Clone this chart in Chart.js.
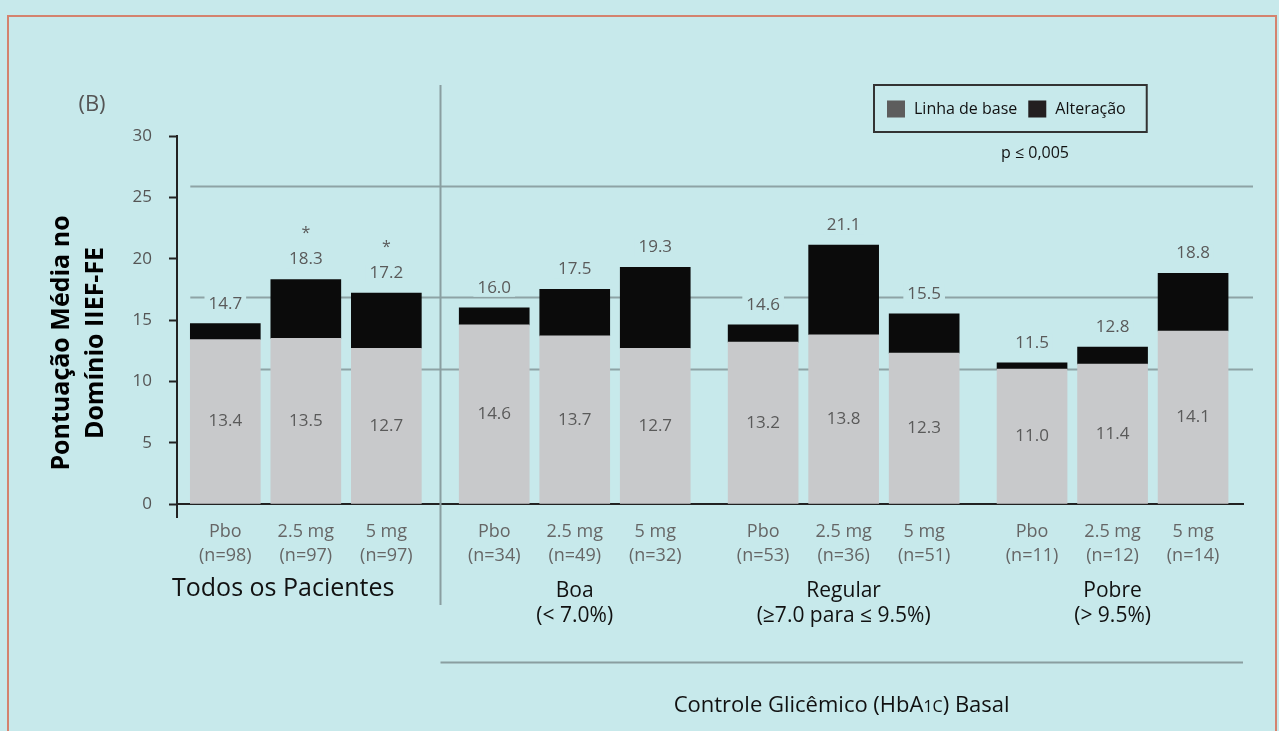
<!DOCTYPE html>
<html lang="pt">
<head>
<meta charset="utf-8">
<title>Pontuação Média no Domínio IIEF-FE</title>
<script src="https://cdn.jsdelivr.net/npm/chart.js@4.4.1/dist/chart.umd.min.js"></script>
<style>
  html, body { margin: 0; padding: 0; background: #c7e9eb; }
  #wrap { width: 1279px; height: 731px; }
</style>
</head>
<body>
<div id="wrap"><canvas id="chart" width="1279" height="731"></canvas></div>
<script>
// Data
const groupNames = ['Todos os Pacientes', 'Boa', 'Regular', 'Pobre'];
const groupRanges = ['', '(< 7.0%)', '(≥7.0 para ≤ 9.5%)', '(> 9.5%)'];
const doses = ['Pbo', '2.5 mg', '5 mg'];
const sampleSizes = [98, 97, 97, 34, 49, 32, 53, 36, 51, 11, 12, 14];
const baselineScores = [13.4, 13.5, 12.7, 14.6, 13.7, 12.7, 13.2, 13.8, 12.3, 11.0, 11.4, 14.1];
const finalScores = [14.7, 18.3, 17.2, 16.0, 17.5, 19.3, 14.6, 21.1, 15.5, 11.5, 12.8, 18.8];
const starred = [false, true, true, false, false, false, false, false, false, false, false, false];
const yTicks = [0, 5, 10, 15, 20, 25, 30];
const guideLines = [25.9, 16.9, 11.0];
const seriesNames = ['Linha de base', 'Alteração'];
const pNote = 'p ≤ 0,005';
const panelTag = '(B)';
const yTitle = ['Pontuação Média no', 'Domínio IIEF-FE'];
const xTitleParts = ['Controle Glicêmico (HbA', '1C', ') Basal'];

// change = final - baseline, stacked on top of the baseline bar
const changeScores = finalScores.map((v, i) => +(v - baselineScores[i]).toFixed(1));

const FONT = '"Open Sans", "DejaVu Sans", sans-serif';
const BG = '#c7e9eb';
const BASE_COLOR = '#c8c9cb';
const CHANGE_COLOR = '#0b0b0b';
const LEGEND_COLORS = ['#5d5d5d', '#231f20'];
const GROUP_GAP = 0.34;

// bar centres on a linear x scale, with a little extra room between groups
const barPos = baselineScores.map((_, i) => i + Math.floor(i / doses.length) * GROUP_GAP);

function text(ctx, str, x, y, font, color, align) {
    ctx.font = font;
    ctx.fillStyle = color;
    ctx.textAlign = align || 'center';
    ctx.textBaseline = 'middle';
    ctx.fillText(str, x, y);
}

const decor = {
    id: 'decor',
    beforeDraw(chart) {
        const { ctx, width, height } = chart;
        ctx.save();
        ctx.fillStyle = BG;
        ctx.fillRect(0, 0, width, height);
        ctx.strokeStyle = '#d4826e';
        ctx.lineWidth = 2;
        ctx.strokeRect(8, 16, width - 11, height + 20);
        ctx.restore();
    },
    beforeDatasetsDraw(chart) {
        const { ctx, chartArea, scales } = chart;
        const xs = scales.x, ys = scales.y;
        ctx.save();
        ctx.strokeStyle = '#8ea3a5';
        ctx.lineWidth = 2;
        const x0 = xs.getPixelForValue(barPos[0]) - 35;
        const x1 = chartArea.right + 10;
        guideLines.forEach(v => {
            const y = Math.round(ys.getPixelForValue(v)) + 0.5;
            ctx.beginPath(); ctx.moveTo(x0, y); ctx.lineTo(x1, y); ctx.stroke();
        });
        // separator between all patients and the HbA1c subgroups
        const sx = Math.round((xs.getPixelForValue(barPos[2]) + xs.getPixelForValue(barPos[3])) / 2) + 0.5;
        ctx.strokeStyle = '#8a9ea0';
        ctx.beginPath(); ctx.moveTo(sx, chartArea.top - 51); ctx.lineTo(sx, chartArea.bottom + 101); ctx.stroke();
        // rule above the subgroup title
        const ly = chartArea.bottom + 158.5;
        ctx.beginPath(); ctx.moveTo(sx, ly); ctx.lineTo(chartArea.right, ly); ctx.stroke();
        ctx.restore();
    },
    afterDraw(chart) {
        const { ctx, chartArea, scales } = chart;
        const xs = scales.x;
        const base = chart.getDatasetMeta(0).data;
        const top = chart.getDatasetMeta(1).data;
        ctx.save();

        // y axis runs a little below zero
        ctx.strokeStyle = '#222';
        ctx.lineWidth = 2;
        ctx.beginPath();
        ctx.moveTo(chartArea.left, chartArea.bottom);
        ctx.lineTo(chartArea.left, chartArea.bottom + 14);
        ctx.stroke();

        const valFont = '17px ' + FONT;
        const catFont = '18px ' + FONT;
        baselineScores.forEach((v, i) => {
            const b = base[i];
            text(ctx, v.toFixed(1), b.x, (b.y + b.base) / 2, valFont, '#5a5a5a');
            const t = top[i];
            const ty = t.y - 20;
            const label = finalScores[i].toFixed(1);
            ctx.font = valFont;
            const w = ctx.measureText(label).width;
            ctx.fillStyle = BG;
            ctx.fillRect(t.x - w / 2 - 4, ty - 9, w + 8, 18);
            text(ctx, label, t.x, ty, valFont, '#5a5a5a');
            if (starred[i]) text(ctx, '*', t.x, ty - 26, '16px ' + FONT, '#5a5a5a');

            // category labels
            const dx = xs.getPixelForValue(barPos[i]);
            text(ctx, doses[i % doses.length], dx, chartArea.bottom + 28, catFont, '#666');
            text(ctx, '(n=' + sampleSizes[i] + ')', dx, chartArea.bottom + 52, catFont, '#666');
        });

        // group labels
        groupNames.forEach((name, g) => {
            const cx = xs.getPixelForValue(barPos[g * doses.length + 1]);
            if (g === 0) {
                text(ctx, name, chartArea.left - 5, chartArea.bottom + 85, '25px ' + FONT, '#111', 'left');
            } else {
                text(ctx, name, cx, chartArea.bottom + 87, '21px ' + FONT, '#111');
                text(ctx, groupRanges[g], cx, chartArea.bottom + 112, '21px ' + FONT, '#111');
            }
        });

        // subgroup title with small "1C"
        const sx = (xs.getPixelForValue(barPos[2]) + xs.getPixelForValue(barPos[3])) / 2;
        const tcx = (sx + chartArea.right) / 2;
        const fonts = ['22px ' + FONT, '16px ' + FONT, '22px ' + FONT];
        let total = 0;
        xTitleParts.forEach((p, k) => { ctx.font = fonts[k]; total += ctx.measureText(p).width; });
        let px = tcx - total / 2;
        xTitleParts.forEach((p, k) => {
            text(ctx, p, px, chartArea.bottom + 202 + (k === 1 ? 1 : 0), fonts[k], '#111', 'left');
            ctx.font = fonts[k];
            px += ctx.measureText(p).width;
        });

        // y title, rotated
        ctx.save();
        ctx.rotate(-Math.PI / 2);
        text(ctx, yTitle[0], -343, 62, 'bold 25px ' + FONT, '#000');
        text(ctx, yTitle[1], -343, 96, 'bold 25px ' + FONT, '#000');
        ctx.restore();

        text(ctx, panelTag, 92, 105, '22px ' + FONT, '#555');

        // legend box
        const lx = 874, ly = 85, lh = 47;
        const cy = ly + lh / 2;
        const lf = '16px ' + FONT;
        ctx.font = lf;
        let cx = lx + 13;
        seriesNames.forEach((name, k) => {
            ctx.fillStyle = LEGEND_COLORS[k];
            ctx.fillRect(cx, cy - 8, 18, 17);
            cx += 18 + 9;
            text(ctx, name, cx, cy + 1, lf, '#111', 'left');
            ctx.font = lf;
            cx += ctx.measureText(name).width + 11;
        });
        const lw = cx - lx + 10;
        ctx.strokeStyle = '#333';
        ctx.lineWidth = 2;
        ctx.strokeRect(lx, ly, lw, lh);
        text(ctx, pNote, lx + 161, 153, '16px ' + FONT, '#111');

        ctx.restore();
    }
};

new Chart(document.getElementById('chart'), {
    type: 'bar',
    data: {
        datasets: [
            {
                label: seriesNames[0],
                data: barPos.map((x, i) => ({ x, y: baselineScores[i] })),
                backgroundColor: BASE_COLOR,
                barThickness: 70
            },
            {
                label: seriesNames[1],
                data: barPos.map((x, i) => ({ x, y: changeScores[i] })),
                backgroundColor: CHANGE_COLOR,
                barThickness: 70
            }
        ]
    },
    options: {
        responsive: false,
        animation: false,
        devicePixelRatio: 1,
        layout: { padding: { top: 136, right: 36, bottom: 227, left: 0 } },
        plugins: { legend: { display: false }, tooltip: { enabled: false } },
        scales: {
            x: {
                type: 'linear',
                stacked: true,
                offset: false,
                min: barPos[0] - 0.6,
                max: barPos[barPos.length - 1] + 0.62,
                ticks: { display: false },
                grid: { display: false, drawTicks: false, offset: false },
                border: { display: true, color: '#222', width: 2 },
                afterFit(scale) { scale.height = 0; }
            },
            y: {
                stacked: true,
                min: 0,
                max: 30,
                afterBuildTicks(scale) { scale.ticks = yTicks.map(v => ({ value: v })); },
                ticks: { color: '#555', font: { family: FONT, size: 17 }, padding: 17 },
                grid: { drawOnChartArea: false, drawTicks: true, tickLength: 8, tickColor: '#222', tickWidth: 2 },
                border: { display: true, color: '#222', width: 2 },
                afterFit(scale) { scale.width = 177; }
            }
        }
    },
    plugins: [decor]
});
</script>
</body>
</html>
